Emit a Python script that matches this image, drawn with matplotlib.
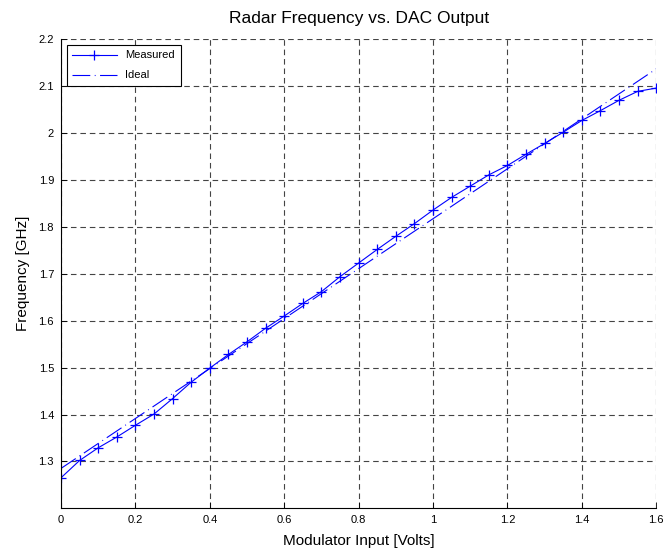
import matplotlib
matplotlib.use("Agg")
import matplotlib.pyplot as plt
import numpy as np

plt.rcParams['font.family'] = ['Liberation Sans', 'DejaVu Sans']

# Data
volts = [0.00, 0.05, 0.10, 0.15, 0.20, 0.25, 0.30, 0.35, 0.40, 0.45, 0.50,
         0.55, 0.60, 0.65, 0.70, 0.75, 0.80, 0.85, 0.90, 0.95, 1.00,
         1.05, 1.10, 1.15, 1.20, 1.25, 1.30, 1.35, 1.40, 1.45, 1.50, 1.55, 1.60]
measured = [1.265, 1.302, 1.329, 1.352, 1.377, 1.401, 1.434, 1.469, 1.499, 1.528, 1.555,
            1.584, 1.610, 1.637, 1.662, 1.694, 1.723, 1.752, 1.780, 1.807, 1.836,
            1.863, 1.887, 1.911, 1.931, 1.955, 1.978, 2.002, 2.027, 2.048, 2.070, 2.089, 2.096]
ideal_x = [0.0, 1.6]
ideal_y = [1.285, 2.137]
xticks = [0, 0.2, 0.4, 0.6, 0.8, 1.0, 1.2, 1.4, 1.6]
xticklabels = ['0', '0.2', '0.4', '0.6', '0.8', '1', '1.2', '1.4', '1.6']
yticks = [1.3, 1.4, 1.5, 1.6, 1.7, 1.8, 1.9, 2.0, 2.1, 2.2]
yticklabels = ['1.3', '1.4', '1.5', '1.6', '1.7', '1.8', '1.9', '2', '2.1', '2.2']

fig = plt.figure(figsize=(6.64, 5.53), dpi=100)
ax = fig.add_axes([61/664, 1 - 508.3/553, (656.3 - 61)/664, (508.3 - 39.3)/553])

ax.plot(volts, measured, color='blue', lw=0.8, marker='+', ms=7, mew=0.9, label='Measured')
ax.plot(ideal_x, ideal_y, color='blue', lw=0.8, linestyle=(0, (16, 4, 0.8, 4)), label='Ideal')

ax.set_xlim(0, 1.6)
ax.set_ylim(1.2, 2.2)
ax.set_xticks(xticks)
ax.set_xticklabels(xticklabels)
ax.set_yticks(yticks)
ax.set_yticklabels(yticklabels)
ax.tick_params(direction='in', labelsize=8, length=4, width=0.6, pad=5)
ax.grid(True, color='#444444', linestyle=(0, (5, 3.5)), linewidth=0.8)
for s in ['top', 'right']:
    ax.spines[s].set_visible(False)
for s in ['left', 'bottom']:
    ax.spines[s].set_linewidth(0.8)

ax.set_title('Radar Frequency vs. DAC Output', fontsize=12.5, pad=12)
ax.set_xlabel('Modulator Input [Volts]', fontsize=11, labelpad=6)
ax.set_ylabel('Frequency [GHz]', fontsize=11, labelpad=6)

leg = ax.legend(loc='upper left', fontsize=8, fancybox=False, framealpha=1,
                edgecolor='black', handlelength=4, borderaxespad=0.5,
                labelspacing=0.9, borderpad=0.5)
leg.get_frame().set_linewidth(0.8)

fig.savefig('out.png', dpi=100)
